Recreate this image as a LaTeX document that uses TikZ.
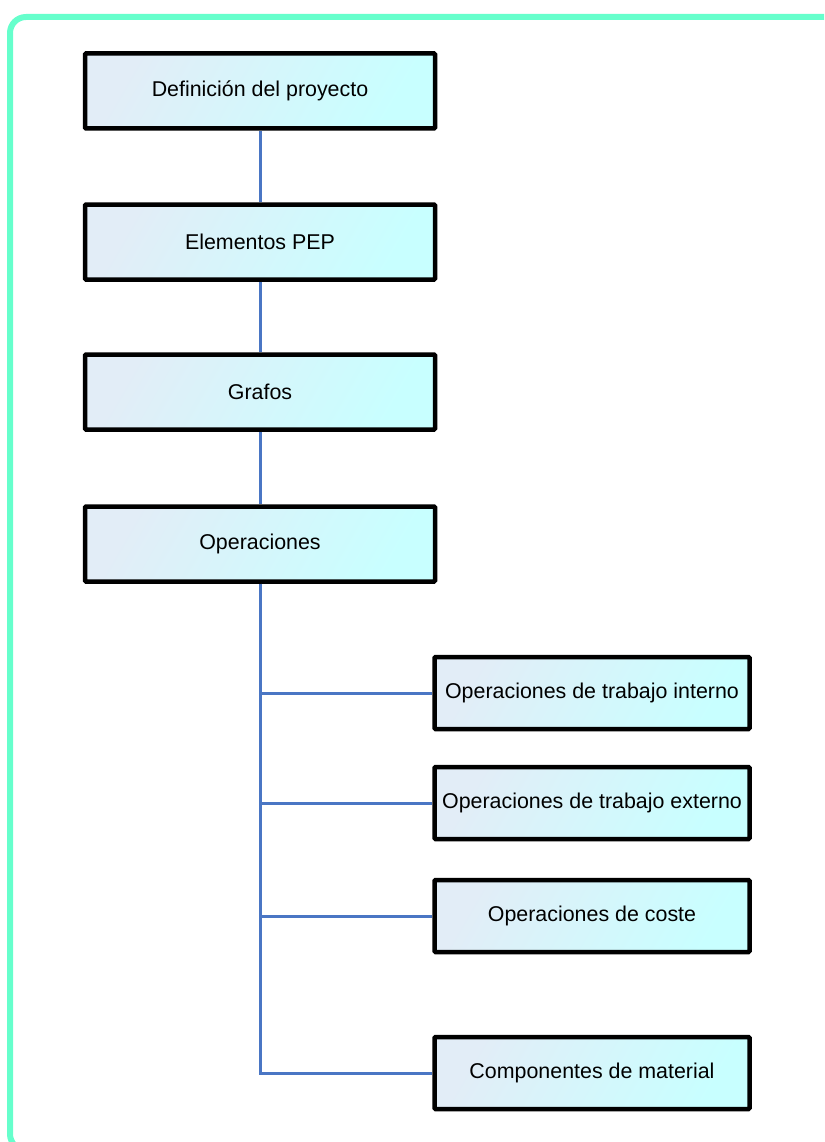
\documentclass[tikz,border=0pt]{standalone}
\usepackage{fontspec}
\setmainfont{Liberation Sans}
\begin{document}
\begin{tikzpicture}[x=1pt,y=-1pt,
  stepbox/.style={draw=black, line width=4.5pt, rounded corners=1pt,
    left color=boxlav, right color=boxcyan, shading angle=60,
    minimum width=#1, minimum height=75pt, inner sep=0pt,
    font=\fontsize{21.4}{24}\selectfont},
  stepbox/.default=350pt,
  link/.style={draw=linkblue, line width=3pt}]
\definecolor{boxlav}{HTML}{E2EDF7}
\definecolor{boxcyan}{HTML}{C8FFFF}
\definecolor{linkblue}{HTML}{4A76C4}
\definecolor{framegreen}{HTML}{66FFCC}
\useasboundingbox (0,0) rectangle (824,1142);
\clip (0,0) rectangle (824,1142);
% outer frame
\draw[framegreen, line width=6pt, rounded corners=16pt] (10,17) rectangle (840,1150);
% main chain
\node[stepbox] (def) at (260,91) {Definición del proyecto};
\node[stepbox] (pep) at (260,242) {Elementos PEP};
\node[stepbox] (gra) at (260,392) {Grafos};
\node[stepbox] (ope) at (260,544) {Operaciones};
% sub items
\node[stepbox=315pt, minimum height=72pt] (int) at (592,693) {Operaciones de trabajo interno};
\node[stepbox=315pt, minimum height=72pt] (ext) at (592,803) {Operaciones de trabajo externo};
\node[stepbox=315pt, minimum height=72pt] (cos) at (592,916) {Operaciones de coste};
\node[stepbox=315pt, minimum height=72pt] (mat) at (592,1073) {Componentes de material};
% connectors
\path[link] (def.south) -- (pep.north);
\path[link] (pep.south) -- (gra.north);
\path[link] (gra.south) -- (ope.north);
\path[link] (ope.south) |- (mat.west);
\path[link] (ope.south) |- (int.west);
\path[link] (ope.south) |- (ext.west);
\path[link] (ope.south) |- (cos.west);
\end{tikzpicture}
\end{document}
